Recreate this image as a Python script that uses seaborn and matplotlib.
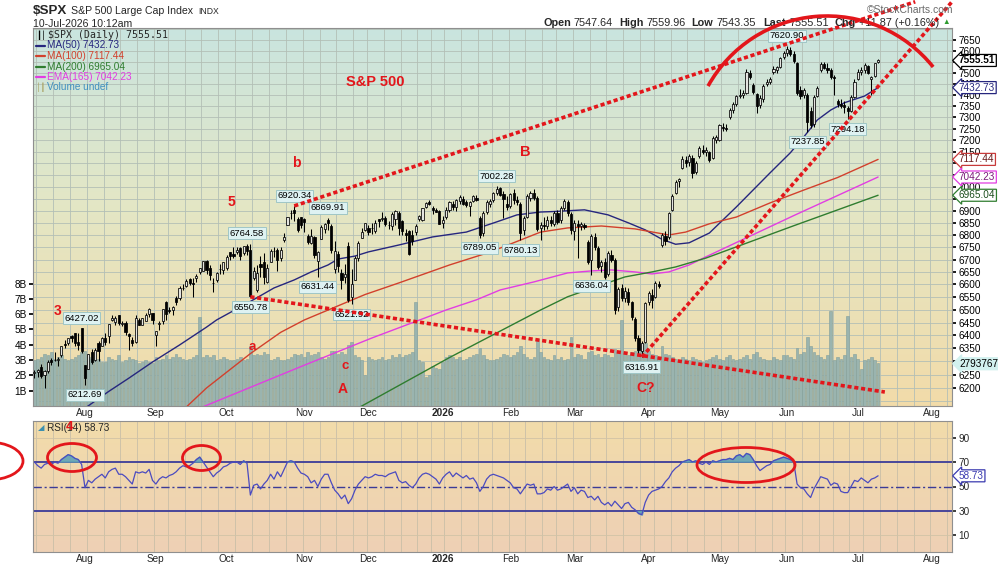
import numpy as np
import pandas as pd
import matplotlib
matplotlib.use("Agg")
import matplotlib.pyplot as plt
import matplotlib.colors as mcolors
from matplotlib.patches import Arc, Ellipse
from matplotlib.lines import Line2D
from matplotlib.ticker import FixedLocator, FixedFormatter, NullLocator, NullFormatter
import seaborn as sns

sns.set_theme(style="white")
plt.rcParams["font.family"] = ["Liberation Sans", "DejaVu Sans"]

# ---------------- data ----------------
holidays = ["2025-09-01", "2025-11-27", "2025-12-25", "2026-01-01", "2026-01-19",
            "2026-02-16", "2026-04-03", "2026-05-25", "2026-06-19", "2026-07-03"]

opens = [
    6255,6259,6280,6248,6263,6305,6304,6306,6326,6368,6370,6398,6409,6373,6427,
    6287,6272,6336,6304,6369,6359,6389,6398,6461,6453,6478,6445,6449,6406,6384,6374,6458,6440,6457,6485,6489,
    6401,6445,6456,6531,6498,6497,6546,6545,6587,6594,6623,6606,6627,6650,6655,6696,6664,6605,6618,6662,6658,
    6664,6731,6722,6732,6747,6728,6754,6738,6627,6577,6680,6689,6611,6690,6736,6739,6706,6780,6843,6890,6902,6865,6873,
    6866,6795,6768,6790,6695,6785,6823,6860,6838,6660,6724,6647,6631,6755,6552,6619,6705,6786,6822,
    6830,6830,6815,6866,6866,6871,6840,6838,6866,6889,6856,6810,6816,6800,6813,6865,6862,6914,6935,6913,6903,6898,
    6850,6875,6905,6930,6915,6940,6950,6935,6920,6940,6955,6870,6810,6895,6930,6945,6975,6995,6970,6930,
    6920,6975,6945,6930,6820,6875,6955,6975,6955,6830,6840,6835,6860,6845,6890,6860,6910,6935,6885,
    6815,6845,6835,6840,6770,6700,6790,6745,6675,6690,6640,6720,6700,6510,6585,6545,6570,6530,6465,6390,6340,6375,
    6530,6560,6550,6600,6760,6795,6790,6905,6975,7025,7080,7115,7105,7125,7065,7130,7160,7150,7150,7125,7200,
    7200,7260,7255,7300,7335,7360,7395,7400,7410,7500,7445,7405,7355,7380,7450,7460,7505,7510,7525,7570,
    7590,7605,7585,7545,7420,7400,7400,7330,7270,7395,7510,7540,7520,7510,7480,7375,7360,7355,7340,7330,7390,
    7470,7505,7510,7530,7470,7485,7547.64]
highs = [
    6269,6273,6292,6268,6304,6315,6336,6316,6360,6381,6390,6401,6410,6409,6427.02,
    6288,6330,6346,6350,6378,6395,6409,6446,6481,6474,6481,6456,6457,6409,6394,6479,6466,6468,6486,6508,6489,
    6416,6454,6502,6533,6511,6513,6555,6592,6601,6620,6627,6624,6641,6667,6695,6697,6676,6626,6650,6680,6689,
    6718,6731,6751,6749,6752,6755,6764.58,6762,6671,6679,6716,6727,6682,6744,6751,6746,6749,6808,6875,6903,6920.34,6873,6873,
    6870,6804,6826,6795,6733,6840,6850,6869.91,6845,6776,6736,6661,6680,6770,6663,6716,6777,6829,6849,
    6843,6851,6862,6866,6895,6877,6857,6895,6904,6901,6862,6826,6822,6819,6845,6884,6912,6937,6945,6920,6913,6902,
    6880,6915,6940,6940,6950,6965,6962,6945,6940,6968,6965,6880,6900,6945,6950,6980,7002.28,7000,6985,6960,
    6975,6990,6960,6935,6880,6970,6985,6990,6960,6855,6875,6880,6880,6900,6905,6920,6950,6945,6895,
    6860,6860,6855,6850,6780,6805,6810,6755,6700,6705,6735,6740,6705,6590,6600,6590,6585,6535,6470,6400,6380,6530,
    6575,6580,6612,6615,6810,6815,6895,6970,7030,7040,7130,7130,7140,7135,7110,7175,7180,7170,7155,7220,7225,
    7270,7275,7270,7340,7370,7400,7425,7420,7515,7510,7455,7410,7400,7450,7470,7480,7530,7530,7570,7600,
    7620.90,7615,7600,7550,7440,7430,7410,7345,7400,7440,7550,7550,7545,7520,7490,7380,7380,7375,7350,7400,7470,
    7515,7525,7545,7535,7485,7545,7559.96]
lows = [
    6237,6242,6239,6201,6258,6285,6303,6282,6317,6353,6363,6375,6358,6345,6332,
    6212.69,6271,6289,6302,6303,6358,6364,6372,6457,6442,6441,6437,6401,6343,6360,6371,6439,6440,6454,6470,6444,
    6360,6419,6445,6460,6487,6478,6518,6540,6577,6589,6598,6551,6610,6641,6654,6642,6619,6570,6608,6640,6643,
    6659,6697,6708,6724,6700,6718,6718,6550.78,6616,6571,6629,6600,6604,6690,6710,6654,6696,6772,6843,6864,6856,6814,6828,
    6812,6762,6762,6706,6631.44,6785,6810,6822,6725,6646,6650,6581,6604,6532,6521.92,6616,6694,6786,6817,
    6800,6805,6810,6832,6856,6836,6826,6822,6841,6800,6801,6777,6719,6759,6800,6856,6858,6910,6923,6888,6893,6844,
    6830,6865,6895,6905,6900,6930,6925,6915,6880,6935,6940,6789.05,6795,6885,6915,6935,6965,6960,6870,6905,
    6910,6930,6925,6780.13,6800,6870,6940,6945,6815,6780,6820,6825,6835,6835,6845,6850,6905,6880,6805,
    6780,6706,6820,6825,6680,6636.04,6740,6660,6650,6620,6635,6690,6485,6495,6535,6530,6520,6460,6380,6330,6316.91,6370,
    6520,6505,6545,6585,6750,6760,6785,6900,6970,7000,7075,7085,7090,7040,7055,7125,7140,7130,7105,7120,7190,
    7195,7240,7240,7295,7320,7350,7385,7385,7405,7470,7405,7320,7340,7370,7440,7450,7495,7500,7520,7560,
    7575,7575,7545,7400,7380,7385,7237.85,7255,7260,7390,7505,7515,7500,7470,7400,7345,7340,7320,7294.18,7325,7385,
    7465,7490,7500,7495,7400,7480,7543.35]
closes = [
    6260,6268,6244,6264,6297,6297,6305,6309,6359,6363,6389,6390,6371,6362,6339,
    6238,6330,6299,6345,6340,6389,6374,6446,6466,6469,6450,6449,6412,6396,6370,6467,6440,6466,6481,6502,6460,
    6416,6448,6502,6482,6495,6512,6532,6587,6584,6615,6607,6600,6632,6664,6693,6657,6638,6605,6644,6661,6688,
    6711,6715,6716,6740,6714,6753,6735,6553,6654,6644,6671,6630,6664,6735,6735,6699,6738,6792,6875,6891,6890,6822,6840,
    6852,6771,6796,6720,6729,6832,6846,6851,6737,6734,6672,6617,6642,6538,6603,6705,6766,6813,6849,
    6812,6829,6850,6857,6870,6846,6840,6887,6901,6827,6816,6800,6721,6775,6835,6878,6910,6932,6930,6905,6896,6845,
    6860,6905,6935,6915,6945,6958,6930,6925,6935,6960,6945,6800,6890,6935,6940,6975,6990,6965,6950,6915,
    6970,6945,6935,6810,6870,6960,6975,6955,6825,6840,6835,6860,6850,6890,6855,6910,6940,6890,6820,
    6850,6835,6845,6832,6690,6795,6750,6670,6690,6630,6725,6700,6500,6580,6545,6575,6530,6470,6390,6345,6370,6525,
    6565,6540,6605,6595,6800,6775,6890,6960,7020,7035,7120,7100,7130,7060,7100,7165,7150,7160,7115,7210,7215,
    7265,7255,7250,7335,7360,7395,7400,7410,7505,7480,7415,7350,7385,7440,7460,7470,7515,7525,7565,7590,
    7610,7585,7555,7410,7395,7420,7280,7265,7390,7430,7540,7520,7510,7480,7475,7360,7350,7345,7330,7390,7460,
    7505,7510,7535,7500,7480,7544,7555.51]

volume_b = [
    3.0,3.1,3.2,3.4,3.3,3.5,3.1,3.2,3.3,3.1,3.0,3.1,3.2,3.3,3.5,
    3.6,3.2,3.1,3.0,3.1,2.9,2.9,3.2,3.1,3.0,3.3,2.9,3.0,3.2,3.1,3.0,2.8,2.9,3.0,2.9,2.8,
    3.2,3.0,3.1,3.3,3.1,3.2,3.4,3.2,3.1,3.0,3.1,3.2,3.3,5.8,3.2,3.3,3.2,3.3,3.0,3.1,3.2,
    3.1,3.0,3.0,3.1,3.2,3.0,3.1,3.9,3.3,3.4,3.3,3.5,3.4,3.0,3.1,3.2,3.0,3.0,3.1,3.2,3.4,3.3,3.4,
    3.2,3.5,3.3,3.4,3.5,3.2,3.1,3.2,3.6,3.6,3.4,3.5,3.4,4.0,4.2,3.3,3.2,3.0,2.0,
    3.2,3.1,3.0,3.1,3.2,3.0,3.1,3.3,3.2,3.4,3.2,3.3,3.4,3.5,6.8,3.0,2.9,1.9,2.0,2.6,2.5,2.4,
    2.9,3.2,3.3,3.2,3.1,3.2,3.0,3.1,3.2,3.3,3.4,3.8,3.3,3.1,3.0,3.0,3.1,3.2,3.4,3.3,
    3.2,3.3,3.5,3.9,3.4,3.2,3.1,3.2,4.4,3.5,3.2,3.1,3.0,3.3,3.1,3.2,3.0,3.1,4.5,
    3.2,3.4,3.3,3.1,3.5,3.6,3.3,3.4,3.2,3.4,3.3,3.2,3.7,3.5,5.6,3.4,3.3,3.5,3.6,3.8,3.9,4.1,
    3.6,3.4,3.3,3.2,3.9,3.4,3.3,3.2,3.1,3.0,3.2,3.1,3.0,3.2,3.1,3.0,2.9,3.0,3.1,3.2,3.3,
    3.1,3.0,3.2,3.3,3.1,3.0,3.1,3.2,3.3,3.1,3.4,3.5,3.2,3.1,3.0,3.0,3.2,3.1,3.0,3.3,
    3.3,3.2,3.1,3.8,3.4,3.5,4.5,3.9,3.5,3.3,3.2,3.1,3.3,6.2,3.0,3.2,3.1,3.3,5.9,3.2,3.4,
    3.1,2.4,3.0,3.1,3.2,3.0,2.793767]

rsi = [
    70,67,65,68,69, 68,70,69,72,74, 76,75,73,72,68, 49,55,53,56,58, 60,57,62,64,65,
    60,60,58,55,52, 62,61,62,61,64, 55,52,56,58,57, 59,60,62,65,67, 66,67,69,72,74,
    70,66,62,58,61, 63,66,67,69,70, 70,68,71,69,43, 51,52,48,52,55, 60,56,62,58,64,
    70,71,70,65,61, 60,58,53,55,50, 56,60,60,53,47, 44,40,43,36,40, 47,52,55,58,57,
    58,60,59,59,58, 60,61,62,55,53, 54,51,49,52,57, 60,61,60,58,56, 52,57,60,62,58,
    61,59,57,59,56, 57,53,46,50,56, 59,60,59,58,57, 55,53,49,48,44, 48,52,51,52,44,
    44,45,48,47,50, 47,48,50,52,46, 49,44,47,46,41, 42,39,42,37,35, 37,34,38,35,32,
    36,37,33,31,28, 27,37,43,46,47, 48,50,54,57,62, 65,67,70,71,72, 70,71,69,68,70,
    68,71,70,71,72, 72,73,72,75,76, 74,77,76,72,67, 63,65,67,68,71, 72,73,74,73,72,
    70,52,49,48,44, 41,48,53,58,57, 56,51,53,52,46, 45,45,50,55,54, 57,55,53,56,57,
    58.73]

ma50_idx = [15, 22, 28, 35, 43, 51, 54, 65, 71, 77, 82, 87, 90, 95, 99, 108, 118, 128, 137, 143,
            150, 154, 163, 170, 176, 181, 186, 190, 194, 200, 208, 218, 224, 228, 232, 236, 240, 246, 250]
ma50_val = [6125, 6187, 6237, 6298, 6363, 6432, 6460, 6540, 6586, 6618, 6650, 6678, 6702, 6714, 6731, 6759,
            6792, 6812, 6854, 6883, 6895, 6897, 6904, 6883, 6850, 6821, 6782, 6762, 6768, 6808, 6916, 7060,
            7146, 7215, 7289, 7333, 7365, 7395, 7432.73]
ma100_idx = [45, 51, 64, 73, 80, 98, 108, 123, 135, 150, 158, 168, 178, 188, 193, 200, 208, 218, 228, 238, 250]
ma100_val = [6129, 6200, 6330, 6412, 6460, 6560, 6606, 6678, 6730, 6812, 6829, 6837, 6825, 6800, 6812, 6846,
             6874, 6933, 6987, 7040, 7117.44]
ema165_idx = [48, 80, 100, 122, 131, 138, 148, 158, 165, 171, 178, 183, 188, 194, 199, 225, 250]
ema165_val = [6120, 6286, 6390, 6499, 6539, 6578, 6610, 6646, 6654, 6658, 6650, 6642, 6650, 6678, 6711, 6880, 7042.23]
ma200_idx = [96, 123, 150, 158, 168, 175, 183, 190, 199, 225, 250]
ma200_val = [6126, 6315, 6499, 6551, 6598, 6630, 6650, 6670, 6706, 6838, 6965.04]

month_names = ["Aug", "Sep", "Oct", "Nov", "Dec", "2026", "Feb", "Mar", "Apr", "May", "Jun", "Jul", "Aug"]
price_ticks = list(range(6200, 7651, 50))
hidden_ticks = [7550, 7100, 7050, 6950, 6300]   # labels covered by the value boxes

# ---------------- calendar ----------------
hol = pd.to_datetime(holidays)
cal = pd.bdate_range("2025-07-11", "2026-08-31")
cal = cal[~cal.isin(hol)]
n = len(closes)
month_pos = [i for i in range(1, len(cal)) if cal[i].month != cal[i - 1].month]
week_pos = [i for i in range(1, len(cal)) if cal[i].weekday() < cal[i - 1].weekday()]

o = np.array(opens, float); h = np.array(highs, float)
l = np.array(lows, float); c = np.array(closes, float)
vol = np.array(volume_b, float); rs = np.array(rsi, float)
idx = np.arange(n)

# ---------------- figure ----------------
W, H = 998, 568
fig = plt.figure(figsize=(W / 100, H / 100), dpi=100)
fig.patch.set_facecolor("white")
renderer = fig.canvas.get_renderer()

def fx(x): return x / W
def fy(y): return 1 - y / H
def ftext(x, y, s, **kw):
    kw.setdefault("va", "center")
    return fig.text(fx(x), fy(y), s, **kw)
def seq_text(x0, y, pieces):
    x = x0
    for s, gap, kw in pieces:
        t = ftext(x, y, s, **kw)
        x += t.get_window_extent(renderer).width + gap
    return x

L, R = 33, 952
pt, pb = 28, 406
rt, rb = 421, 552
pos_p = [fx(L), fy(pb), (R - L) / W, (pb - pt) / H]
pos_r = [fx(L), fy(rb), (R - L) / W, (rb - rt) / H]
XL = (-0.41, 271.9)
YL = (6133, 7705)
TFS = 7.2

def gradient(a, stops):
    t = np.linspace(0, 1, 300)
    cols = np.array([mcolors.to_rgb(cc) for _, cc in stops])
    ps = [p for p, _ in stops]
    img = np.stack([np.interp(t, ps, cols[:, k]) for k in range(3)], axis=-1)[:, None, :]
    a.imshow(img, extent=(0, 1, 0, 1), transform=a.transAxes, aspect="auto",
             origin="upper", zorder=0, interpolation="bilinear")

# background axes
axbg = fig.add_axes(pos_p, label="bg")
gradient(axbg, [(0, "#c9e4df"), (0.45, "#e3e7c6"), (1, "#f2dba9")])
axbg.set_yscale("log")
axbg.set_xlim(*XL); axbg.set_ylim(*YL)
grid_c = "#b3bfb6"
for wp in week_pos:
    axbg.axvline(wp - 0.5, color=grid_c, lw=0.6, zorder=1)
for p in range(6150, 7701, 50):
    axbg.axhline(p, color=grid_c, lw=0.6, zorder=1)
axbg.set_xticks([]); axbg.set_yticks([])
axbg.yaxis.set_minor_locator(NullLocator())
for s in axbg.spines.values(): s.set_visible(False)

# volume axes
axv = fig.add_axes(pos_p, label="vol")
axv.patch.set_visible(False)
axv.bar(idx, vol, width=0.8, color="#9ab4af", edgecolor="#839f9a", linewidth=0.4, zorder=2)
axv.set_xlim(*XL); axv.set_ylim(0, 24.7)
axv.set_xticks([])
axv.yaxis.tick_left()
axv.set_yticks(range(1, 9))
axv.set_yticklabels([f"{k}B" for k in range(1, 9)])
axv.tick_params(axis="y", labelsize=TFS, length=3, pad=1.5, colors="black")
for s in axv.spines.values(): s.set_visible(False)

# price axes
ax = fig.add_axes(pos_p, label="price")
ax.patch.set_visible(False)
ax.set_yscale("log")
ax.set_xlim(*XL); ax.set_ylim(*YL)
up = c >= o
blo = np.minimum(o, c); bhi = np.maximum(o, c)
ax.vlines(idx, l, h, color="black", lw=0.75, zorder=4)
ax.bar(idx[up], bhi[up] - blo[up], bottom=blo[up], width=0.62, color="#e4e4e0",
       edgecolor="black", linewidth=0.55, zorder=5)
ax.bar(idx[~up], bhi[~up] - blo[~up], bottom=blo[~up], width=0.62, color="black",
       edgecolor="black", linewidth=0.55, zorder=5)

for xi, yv, col in [(ma50_idx, ma50_val, "#26267e"), (ma100_idx, ma100_val, "#d2402c"),
                    (ema165_idx, ema165_val, "#e23de2"), (ma200_idx, ma200_val, "#2f7d2f")]:
    sns.lineplot(x=xi, y=yv, ax=ax, color=col, linewidth=1.0, legend=False,
                 estimator=None, sort=False, zorder=3)

ax.yaxis.tick_right()
ax.yaxis.set_major_locator(FixedLocator(price_ticks))
ax.yaxis.set_major_formatter(FixedFormatter(["" if v in hidden_ticks else str(v) for v in price_ticks]))
ax.yaxis.set_minor_locator(NullLocator()); ax.yaxis.set_minor_formatter(NullFormatter())
ax.tick_params(axis="y", labelsize=TFS, length=3, pad=1.5, colors="black")
ax.set_xticks(month_pos[:len(month_names)])
ax.set_xticklabels(month_names)
ax.tick_params(axis="x", labelsize=TFS, length=0, pad=1.5)
ax.set_xlabel(""); ax.set_ylabel("")
for s in ax.spines.values(): s.set_color("#8f8f8f"); s.set_linewidth(0.8)

# price callouts
callouts = [(14, 6427.02, 1), (15, 6212.69, -1), (63, 6764.58, 1), (64, 6550.78, -1),
            (77, 6920.34, 1), (87, 6869.91, 1), (84, 6631.44, -1), (94, 6521.92, -1),
            (137, 7002.28, 1), (132, 6789.05, -1), (144, 6780.13, -1), (165, 6636.04, -1),
            (180, 6316.91, -1), (223, 7620.90, 1), (229, 7237.85, -1), (241, 7294.18, -1)]
for ci, cv, sgn in callouts:
    ax.annotate(f"{cv:.2f}", xy=(ci, cv), xytext=(0, 7.4 * sgn), textcoords="offset points",
                ha="center", va="center", fontsize=6.8, color="black", zorder=8,
                bbox=dict(boxstyle="square,pad=0.15", fc="#def2f2", ec="#9fc6c6", lw=0.7))

# wave labels
red = "#e3161b"
for s, xi, yv, fs in [("S&P 500", 101, 7458, 10.5), ("5", 58.3, 6937, 10), ("b", 77.5, 7103, 10),
                      ("B", 145.4, 7150, 10.5), ("3", 7, 6495, 10), ("a", 64.5, 6355, 9.5),
                      ("c", 92, 6283, 9.5), ("A", 91.4, 6196, 10), ("C?", 181, 6200, 10)]:
    ax.text(xi, yv, s, color=red, fontsize=fs, fontweight="bold", ha="center", va="center",
            zorder=9, clip_on=False)

# trend lines (dotted)
dot = dict(color="#e3161b", lw=2.6, linestyle=(0, (1.15, 0.75)), zorder=9, clip_on=False,
           solid_capstyle="butt", dash_capstyle="butt")
ax.plot([77, 261], [6920.34, 7828], **dot)
ax.plot([64, 252], [6550.78, 6185], **dot)
ax.plot([180, 271.9], [6316.91, 7828], **dot)

# right-side value boxes
def rbox(a, y, text, ec, fc, tc, bold=False):
    a.annotate(text, xy=(1.0, y), xycoords=a.get_yaxis_transform(), xytext=(5, 0),
               textcoords="offset points", va="center", ha="left", fontsize=7.2, color=tc,
               fontweight="bold" if bold else "normal", annotation_clip=False, zorder=10,
               bbox=dict(boxstyle="larrow,pad=0.1", fc=fc, ec=ec, lw=0.9))

rbox(ax, closes[-1], f"{closes[-1]:.2f}", "black", "white", "black", bold=True)
rbox(ax, ma50_val[-1], f"{ma50_val[-1]:.2f}", "#26267e", "white", "#26267e")
rbox(ax, ma100_val[-1], f"{ma100_val[-1]:.2f}", "#c83a3a", "white", "#6a1a1a")
rbox(ax, ema165_val[-1], f"{ema165_val[-1]:.2f}", "#e23de2", "white", "#7a1a7a")
rbox(ax, ma200_val[-1], f"{ma200_val[-1]:.2f}", "#2f7d2f", "white", "#1f4f1f")
rbox(ax, 6200 * np.exp((388 - (406.5 - vol[-1] * 15.3)) / 1656),
     f"{int(round(vol[-1] * 1e6))}", "#d2f1ef", "#d2f1ef", "black")

# ---------------- RSI panel ----------------
axr = fig.add_axes(pos_r, label="rsi")
gradient(axr, [(0, "#f2dcaa"), (1, "#eed0b5")])
axr.set_xlim(*XL); axr.set_ylim(-3.5, 103.5)
for wp in week_pos:
    axr.axvline(wp - 0.5, color="#c9bfa8", lw=0.6, zorder=1)
for lv in (10, 90):
    axr.axhline(lv, color="#d1c3a6", lw=0.6, zorder=1)
axr.axhline(70, color="#3b3b98", lw=1.3, zorder=2)
axr.axhline(30, color="#3b3b98", lw=1.3, zorder=2)
axr.axhline(50, color="#3b3b98", lw=1.0, linestyle=(0, (6, 2, 1.5, 2)), zorder=2)
axr.fill_between(idx, 70, rs, where=rs > 70, interpolate=True, color="#62a3b6", alpha=0.9, zorder=3)
axr.fill_between(idx, 30, rs, where=rs < 30, interpolate=True, color="#62a3b6", alpha=0.9, zorder=3)
sns.lineplot(x=idx, y=rs, ax=axr, color="#4b4bc0", linewidth=0.9, legend=False, zorder=4)
axr.yaxis.tick_right()
axr.set_yticks([10, 30, 50, 70, 90])
axr.tick_params(axis="y", labelsize=TFS, length=3, pad=1.5)
axr.set_xticks(month_pos[:len(month_names)])
axr.set_xticklabels(month_names)
axr.tick_params(axis="x", labelsize=TFS, length=0, pad=1.5)
axr.set_xlabel(""); axr.set_ylabel("")
for s in axr.spines.values(): s.set_color("#8f8f8f"); s.set_linewidth(0.8)
for a in (ax, axr):
    for t in a.get_xticklabels():
        if t.get_text() == "2026":
            t.set_fontweight("bold")
rbox(axr, rs[-1], f"{rs[-1]:.2f}", "#3b3bb0", "white", "#3b3bb0")

# ---------------- header / legend texts ----------------
seq_text(33, 11, [("$SPX", 4, dict(fontsize=9.6, fontweight="bold")),
                  ("S&P 500 Large Cap Index", 5, dict(fontsize=7.6)),
                  ("INDX", 0, dict(fontsize=6.2))])
ftext(33, 24, "10-Jul-2026 10:12am", fontsize=7.6)
ftext(953, 10, "\u00a9StockCharts.com", fontsize=7.5, color="#6a6a6a", ha="right")
hb = dict(fontsize=7.8, fontweight="bold"); hn = dict(fontsize=7.8)
seq_text(543, 23, [("Open", 3, hb), ("7547.64", 6, hn), ("High", 3, hb), ("7559.96", 6, hn),
                   ("Low", 3, hb), ("7543.35", 8, hn), ("Last", 3, hb), ("7555.51", 6, hn),
                   ("Chg", 3, hb), ("+11.87 (+0.16%)", 3, hn),
                   ("\u25b2", 0, dict(fontsize=5.5, color="#2e9b2e"))])

ftext(48, 35, "$SPX (Daily) 7555.51", fontsize=7.1, family="DejaVu Sans Mono")
ftext(36, 35, "\u2503\u2502", fontsize=6, color="black", family="DejaVu Sans")
leg = [("MA(50) 7432.73", "#26267e", 45.5), ("MA(100) 7117.44", "#d2402c", 56),
       ("MA(200) 6965.04", "#2f7d2f", 66.5), ("EMA(165) 7042.23", "#e23de2", 77)]
for s, col, yy in leg:
    fig.add_artist(Line2D([fx(36), fx(45)], [fy(yy), fy(yy)], color=col, lw=1.6,
                          transform=fig.transFigure))
    ftext(47, yy, s, fontsize=7.2, color=col)
ftext(36, 87.5, "\u2502\u2503", fontsize=5.5, color="#a8a060", family="DejaVu Sans")
ftext(47, 87.5, "Volume undef", fontsize=7.2, color="#3f8fc0")

ftext(38, 428, "\u25e2", fontsize=6, color="#3b8fb0", family="DejaVu Sans")
t_rsi = ftext(47, 428, "RSI(", fontsize=7.2)
x4 = 47 + t_rsi.get_window_extent(renderer).width
t_rsi.set_visible(False)
ftext(47, 428, "RSI(14) 58.73", fontsize=7.2)
ftext(x4 - 1, 427, "4", fontsize=9.5, fontweight="bold", color=red)

# big arc over the top (drawn in inches so the circle stays round)
fig.add_artist(Arc((827 / 100, (H - 152) / 100), 2 * 1.36, 2 * 1.36, theta1=38.7, theta2=151,
                   color=red, lw=2.6, transform=fig.dpi_scale_trans, zorder=20))
# RSI ellipses
for cx, cy, ew, eh in [(72, 457.5, 49, 28), (201.5, 458, 38, 25), (746, 465, 98, 35), (-12, 461, 70, 38)]:
    fig.add_artist(Ellipse((fx(cx), fy(cy)), ew / W, eh / H, fill=False, ec=red, lw=2.0,
                           transform=fig.transFigure, zorder=20))

fig.savefig("out.png", dpi=100, facecolor="white")
